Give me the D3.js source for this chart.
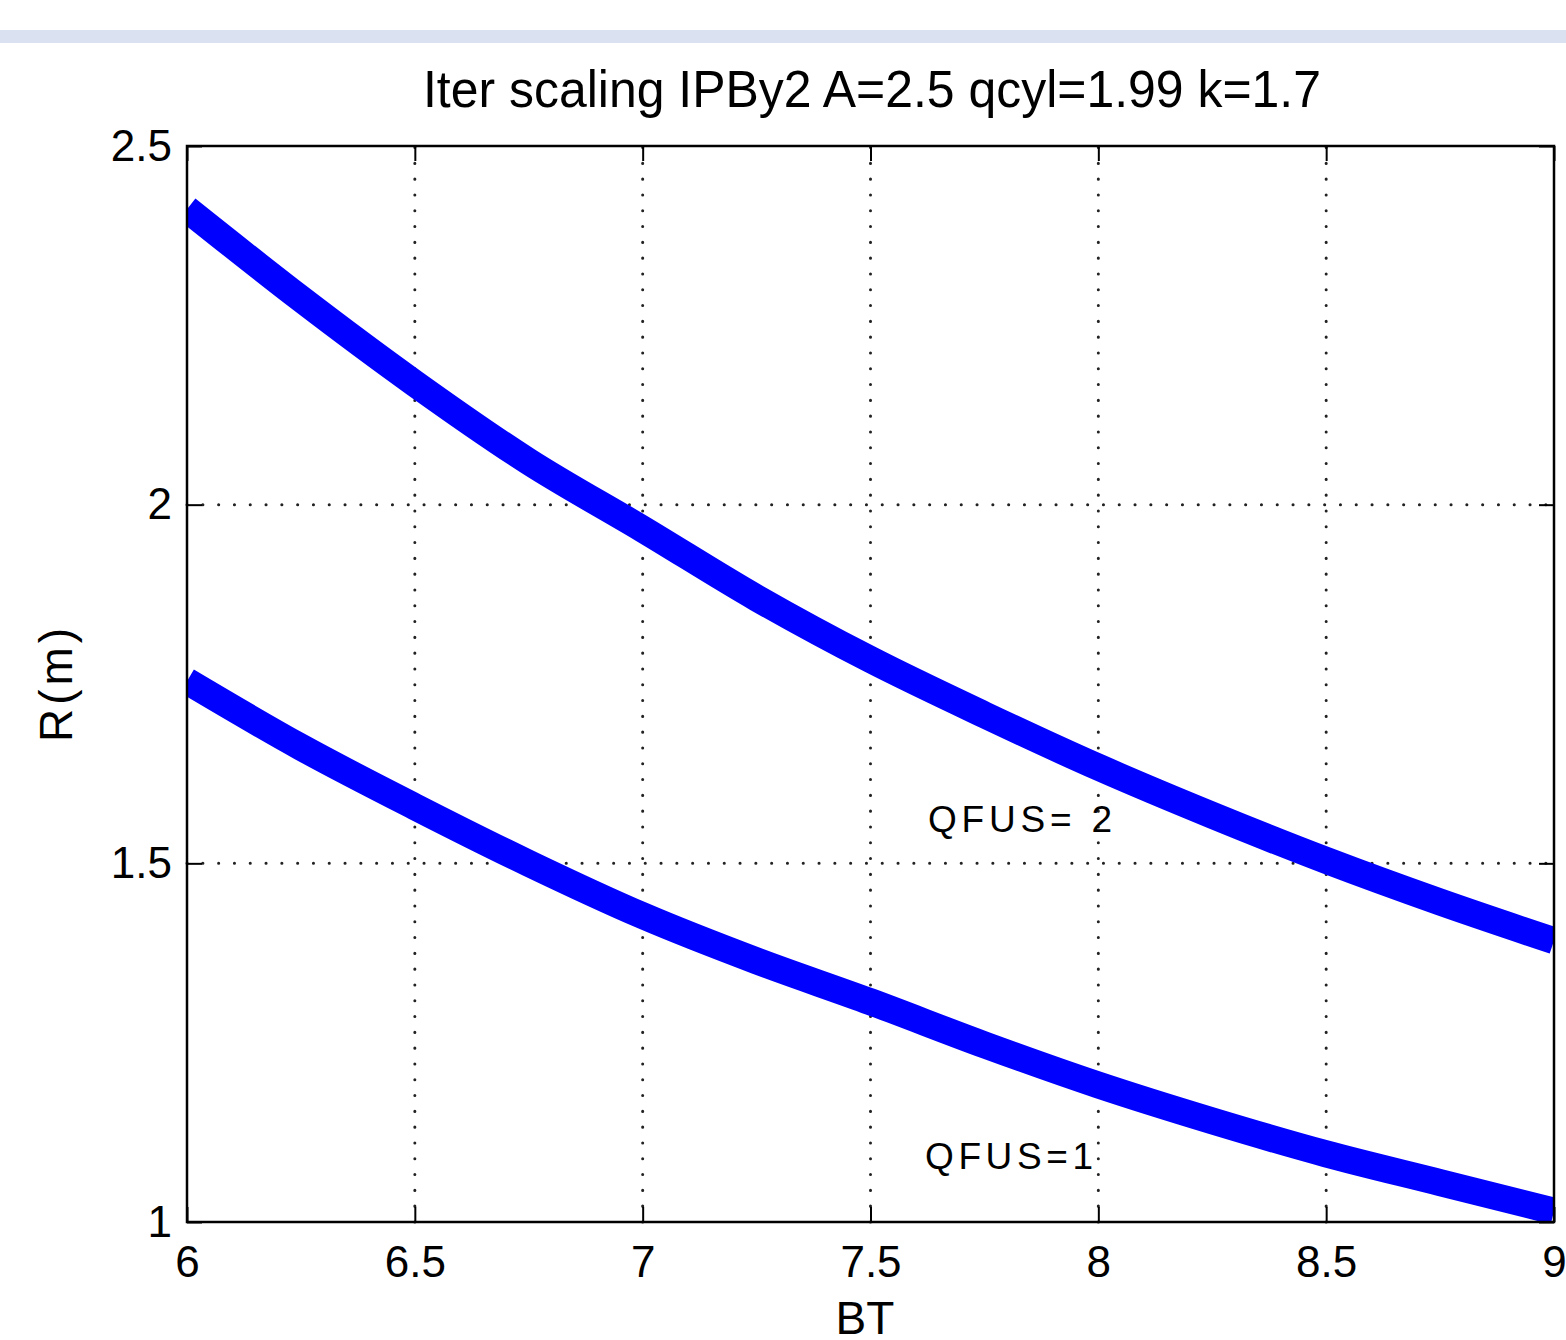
<!DOCTYPE html>
<html>
<head>
<meta charset="utf-8">
<script src="https://cdn.jsdelivr.net/npm/d3@7"></script>
<style>
    html, body { margin: 0; padding: 0; background: #fff; }
    svg { display: block; }
</style>
</head>
<body>
<svg id="chart" width="1566" height="1340"></svg>
<script>
// data
var bt = [6, 6.25, 6.5, 6.75, 7, 7.25, 7.5, 7.75, 8, 8.25, 8.5, 8.75, 9];
var qfus2 = [2.412, 2.287, 2.169, 2.060, 1.966, 1.870, 1.784, 1.707, 1.634, 1.567, 1.504, 1.446, 1.392];
var qfus1 = [1.754, 1.662, 1.579, 1.500, 1.427, 1.364, 1.307, 1.247, 1.191, 1.141, 1.095, 1.055, 1.015];
var xTicks = [6, 6.5, 7, 7.5, 8, 8.5, 9];
var yTicks = [1, 1.5, 2, 2.5];
var title = 'Iter scaling IPBy2 A=2.5 qcyl=1.99 k=1.7';

var svg = d3.select('#chart');
var font = '"Liberation Sans", Arial, Helvetica, sans-serif';

// plot box (pixels)
var pLeft = 187, pRight = 1554, pTop = 146, pBottom = 1222;

var x = d3.scaleLinear().domain([6, 9]).range([pLeft, pRight]);
var y = d3.scaleLinear().domain([1, 2.5]).range([pBottom, pTop]);

// band on top
svg.append('rect')
    .attr('x', 0)
    .attr('y', 30)
    .attr('width', 1566)
    .attr('height', 13)
    .attr('fill', '#dae2f2');

// title
svg.append('text')
    .attr('x', 872)
    .attr('y', 107)
    .attr('text-anchor', 'middle')
    .attr('font-family', font)
    .attr('font-size', 52)
    .attr('textLength', 898)
    .attr('lengthAdjust', 'spacingAndGlyphs')
    .attr('fill', '#000')
    .text(title);

// grid
var grid = svg.append('g')
    .attr('stroke', '#222')
    .attr('stroke-width', 3)
    .attr('stroke-linecap', 'round')
    .attr('stroke-dasharray', '0.1,15.7');

grid.selectAll('line.gx')
    .data(xTicks.slice(1, -1))
    .enter()
    .append('line')
    .attr('class', 'gx')
    .attr('x1', d => x(d))
    .attr('x2', d => x(d))
    .attr('y1', pBottom)
    .attr('y2', pTop);

grid.selectAll('line.gy')
    .data(yTicks.slice(1, -1))
    .enter()
    .append('line')
    .attr('class', 'gy')
    .attr('x1', pLeft)
    .attr('x2', pRight)
    .attr('y1', d => y(d))
    .attr('y2', d => y(d));

// curves
svg.append('clipPath')
    .attr('id', 'plotClip')
    .append('rect')
    .attr('x', pLeft)
    .attr('y', pTop)
    .attr('width', pRight - pLeft)
    .attr('height', pBottom - pTop);

var line = d3.line()
    .x(d => x(d[0]))
    .y(d => y(d[1]))
    .curve(d3.curveMonotoneX);

[qfus2, qfus1].forEach(function (s) {
    svg.append('path')
        .attr('clip-path', 'url(#plotClip)')
        .attr('d', line(bt.map((b, i) => [b, s[i]])))
        .attr('fill', 'none')
        .attr('stroke', '#0000ff')
        .attr('stroke-width', 27)
        .attr('stroke-linejoin', 'round');
});

// axes
function styleAxis(g) {
    g.select('.domain').remove();
    g.selectAll('.tick line').attr('stroke', '#000').attr('stroke-width', 2);
    g.selectAll('.tick text')
        .attr('fill', '#000')
        .attr('font-family', font)
        .attr('font-size', 44);
}

svg.append('g')
    .attr('transform', `translate(0,${pBottom})`)
    .call(d3.axisBottom(x).tickValues(xTicks).tickSize(-15).tickPadding(24).tickFormat(d3.format('')))
    .call(styleAxis);

svg.append('g')
    .attr('transform', `translate(${pLeft},0)`)
    .call(d3.axisLeft(y).tickValues(yTicks).tickSize(-15).tickPadding(15).tickFormat(d3.format('')))
    .call(styleAxis);

svg.append('g')
    .attr('transform', `translate(0,${pTop})`)
    .call(d3.axisTop(x).tickValues(xTicks).tickSize(-15).tickFormat(''))
    .call(styleAxis);

svg.append('g')
    .attr('transform', `translate(${pRight},0)`)
    .call(d3.axisRight(y).tickValues(yTicks).tickSize(-15).tickFormat(''))
    .call(styleAxis);

// box
svg.append('rect')
    .attr('x', pLeft)
    .attr('y', pTop)
    .attr('width', pRight - pLeft)
    .attr('height', pBottom - pTop)
    .attr('fill', 'none')
    .attr('stroke', '#000')
    .attr('stroke-width', 2.5);

// axis labels
svg.append('text')
    .attr('x', 865)
    .attr('y', 1334)
    .attr('text-anchor', 'middle')
    .attr('font-family', font)
    .attr('font-size', 46)
    .attr('fill', '#000')
    .text('BT');

svg.append('text')
    .attr('transform', 'translate(72,685) rotate(-90)')
    .attr('text-anchor', 'middle')
    .attr('font-family', font)
    .attr('font-size', 46)
    .attr('textLength', 114)
    .attr('fill', '#000')
    .text('R(m)');

// curve labels
svg.append('text')
    .attr('x', 928)
    .attr('y', 832)
    .attr('font-family', font)
    .attr('font-size', 37)
    .attr('textLength', 184)
    .attr('fill', '#000')
    .text('QFUS= 2');

svg.append('text')
    .attr('x', 925)
    .attr('y', 1169)
    .attr('font-family', font)
    .attr('font-size', 37)
    .attr('textLength', 168)
    .attr('fill', '#000')
    .text('QFUS=1');
</script>
</body>
</html>
